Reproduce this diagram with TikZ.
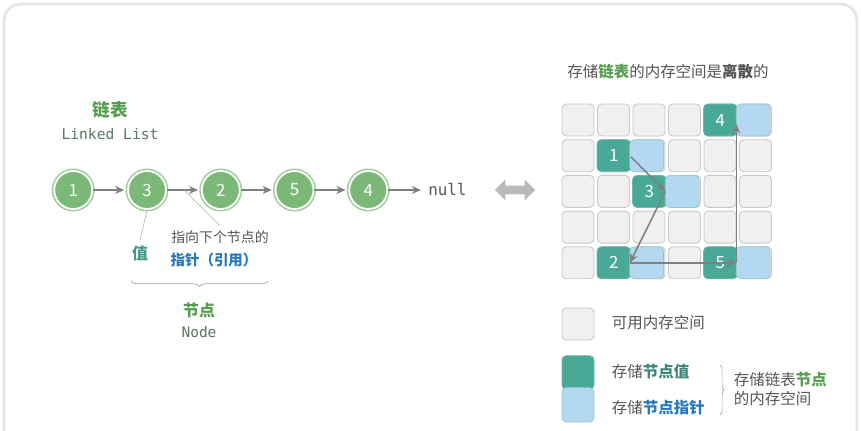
\documentclass[tikz,border=0pt]{standalone}
\usepackage{fontspec}
\setmainfont{Noto Sans CJK SC}
\setmonofont{DejaVu Sans Mono}
\usepackage{xcolor}
\usetikzlibrary{arrows.meta,positioning,shapes.arrows,decorations.pathreplacing,calc}
\definecolor{nodegreen}{RGB}{124,185,120}
\definecolor{ringgreen}{RGB}{160,205,155}
\definecolor{titlegreen}{RGB}{84,158,78}
\definecolor{valteal}{RGB}{74,168,150}
\definecolor{ptrblue}{RGB}{180,216,242}
\definecolor{ptrtext}{RGB}{38,120,190}
\definecolor{cellgray}{RGB}{240,240,240}
\definecolor{cellline}{RGB}{200,200,200}
\definecolor{arrowgray}{RGB}{128,128,128}
\definecolor{textgray}{RGB}{85,85,85}
\definecolor{monogreen}{RGB}{88,118,96}

\begin{document}
\begin{tikzpicture}[
  x=0.025cm, y=-0.025cm,
  every node/.style={font=\fontsize{11}{13.6}\selectfont, text=textgray},
  lnode/.style={circle, fill=nodegreen, draw=white, line width=1.3pt, minimum size=0.95cm, inner sep=0pt,
    preaction={draw=ringgreen, line width=3.5pt}, text=white, font=\fontsize{12}{14}\selectfont},
  ptr/.style={-{Stealth[length=2.3mm, width=2mm]}, draw=arrowgray, line width=1.1pt},
  leader/.style={draw=gray!60, line width=0.4pt},
  cell/.style={rectangle, rounded corners=3pt, fill=cellgray, draw=cellline, line width=0.6pt,
    minimum width=0.8cm, minimum height=0.8cm, inner sep=0pt},
  valcell/.style={rectangle, rounded corners=3pt, fill=valteal, draw=valteal!80, line width=0.5pt,
    minimum width=0.84cm, minimum height=0.8cm, inner sep=0pt, outer sep=0pt, text=white,
    font=\fontsize{12}{14}\selectfont},
  ptrcell/.style={rectangle, rounded corners=3pt, fill=ptrblue, draw=valteal!60, line width=0.5pt,
    minimum width=0.84cm, minimum height=0.8cm, inner sep=0pt, outer sep=0pt},
  brc/.style={decorate, decoration={brace, amplitude=4pt}, draw=gray!70, line width=0.5pt},
]
  \useasboundingbox (0,0) rectangle (861,431);
  \draw[gray!20, line width=2pt, rounded corners=12pt] (4,4) rectangle (857,450);

  % linked list
  \node[font=\bfseries\fontsize{12.5}{15}\selectfont, text=titlegreen] (lltitle) at (110,110) {链表};
  \node[font=\ttfamily\fontsize{10.4}{12}\selectfont, text=monogreen] (llsub) at (110,134) {Linked List};
  \foreach \v [count=\i] in {1,3,2,5,4}
    \node[lnode] (c\i) at ({73.75*\i-0.5},190) {\v};
  \foreach \a/\b in {c1/c2,c2/c3,c3/c4,c4/c5}
    \draw[ptr, shorten >=2pt] (\a) -- (\b);
  \node[font=\ttfamily\fontsize{11.3}{13}\selectfont, text=textgray, anchor=west, inner sep=0pt] (null) at (428,190) {null};
  \draw[ptr, shorten >=5pt] (c5) -- (null.west);

  % value / pointer labels
  \node[font=\bfseries\fontsize{11.3}{13}\selectfont, text=valteal!90!black] (val) at (140,253) {值};
  \node[font=\fontsize{9.9}{12}\selectfont] (ptrtxt) at (220,237) {指向下个节点的};
  \node[font=\bfseries\fontsize{10.3}{12}\selectfont, text=ptrtext] (ptrref) at (214,260) {指针（引用）};
  \draw[leader] (c2.south) -- (val.north);
  \draw[leader] ($(c2)!0.5!(c3)$) -- (ptrtxt.north);
  \draw[brc, decoration={mirror}] (131,281) -- (268,281) coordinate[midway] (brmid);
  \node[font=\bfseries\fontsize{11.3}{13}\selectfont, text=titlegreen] (nodecn) at (199,310) {节点};
  \node[font=\ttfamily\fontsize{10.3}{12}\selectfont, text=monogreen] (nodeen) at (199,332) {Node};

  % swap arrow
  \node[double arrow, fill=gray!55, inner sep=0.1cm, double arrow head extend=0.15cm, minimum height=1cm] (swap) at (515,190) {};

  % memory grid
  \node (memtitle) at (668,72) {存储\textcolor{titlegreen}{\textbf{链表}}的内存空间是\textbf{离散}的};
  \foreach \r in {0,...,4}
    \foreach \c in {0,...,5}
      \node[cell] (m\r\c) at ({578+35.5*\c},{120+35.7*\r}) {};
  \foreach \k/\r/\c in {4/0/4, 1/1/1, 3/2/2, 2/4/1, 5/4/4} {
    \node[valcell, anchor=west] (v\k) at (m\r\c.west) {\k};
    \node[ptrcell, right=-0.6pt of v\k] (p\k) {};
  }
  \draw[ptr, shorten <=1pt] (p1.west) -- (p3.west);
  \draw[ptr] (p3.west) -- (p2.west);
  \draw[ptr] (p2.west) -- (p5.west);
  \draw[ptr, shorten >=3pt] (p5.west) -- (p4.west);

  % legend
  \node[cell] (lgfree) at (578,324) {};
  \node[anchor=west] (lgfreetxt) at (607,323) {可用内存空间};
  \node[valcell, minimum width=0.8cm, minimum height=0.84cm] (lgval) at (578,372.5) {};
  \node[ptrcell, minimum width=0.8cm, minimum height=0.86cm, below=-1.2pt of lgval] (lgptr) {};
  \node[anchor=west] (lgvaltxt) at (607,372) {存储\textcolor{valteal!80!black}{\textbf{节点值}}};
  \node[anchor=west] (lgptrtxt) at (607,408) {存储\textcolor{ptrtext}{\textbf{节点指针}}};
  \draw[brc, decoration={amplitude=3pt}] (720,365) -- (720,415);
  \node[anchor=west, align=left] (lgnode) at (729,389) {存储链表\textcolor{titlegreen}{\textbf{节点}}\\的内存空间};
\end{tikzpicture}
\end{document}
